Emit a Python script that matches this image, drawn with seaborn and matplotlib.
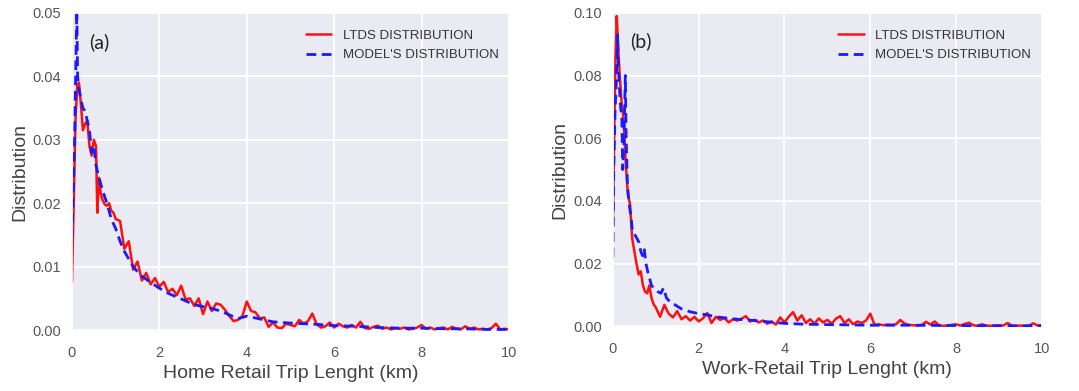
import numpy as np
import pandas as pd
import seaborn as sns
import matplotlib.pyplot as plt

# ---- panel (a): home-retail trip length ----
a_ltds_head_x = [0.0, 0.04, 0.08, 0.12, 0.16, 0.20, 0.25, 0.30, 0.35, 0.40, 0.45,
                 0.50, 0.55, 0.58, 0.62, 0.66, 0.70, 0.75, 0.80, 0.85, 0.90, 0.95]
a_ltds_head_y = [0.0075, 0.0200, 0.0330, 0.0385, 0.0390, 0.0360, 0.0315, 0.0325, 0.0330, 0.0290, 0.0275,
                 0.0300, 0.0290, 0.0185, 0.0240, 0.0215, 0.0205, 0.0198, 0.0196, 0.0200, 0.0188, 0.0185]
# tail sampled every 0.1 km from 1.0 to 10.0
a_ltds_tail_y = [0.0175, 0.0172, 0.0128, 0.0140, 0.0095, 0.0108, 0.0078, 0.0090, 0.0072, 0.0082,
                 0.0068, 0.0076, 0.0060, 0.0065, 0.0055, 0.0070, 0.0048, 0.0050, 0.0038, 0.0050,
                 0.0025, 0.0045, 0.0030, 0.0042, 0.0040, 0.0032, 0.0022, 0.0014, 0.0016, 0.0022,
                 0.0045, 0.0030, 0.0028, 0.0018, 0.0020, 0.0005, 0.0012, 0.0004, 0.0003, 0.0010,
                 0.0008, 0.0006, 0.0016, 0.0010, 0.0014, 0.0026, 0.0009, 0.0004, 0.0006, 0.0012,
                 0.0004, 0.0010, 0.0006, 0.0004, 0.0008, 0.0004, 0.0013, 0.0003, 0.0002, 0.0005,
                 0.0007, 0.0002, 0.0004, 0.0001, 0.0003, 0.0002, 0.0004, 0.0001, 0.0002, 0.0004,
                 0.0008, 0.0002, 0.0004, 0.0001, 0.0003, 0.0004, 0.0001, 0.0005, 0.0002, 0.0001,
                 0.0006, 0.0002, 0.0004, 0.0001, 0.0002, 0.0001, 0.0003, 0.0010, 0.0001, 0.0002,
                 0.0001]
a_model_x = [0.0, 0.03, 0.06, 0.09, 0.11, 0.13, 0.16, 0.20, 0.25, 0.30,
             0.35, 0.40, 0.45, 0.50, 0.55, 0.60, 0.70, 0.80, 0.90, 1.0,
             1.1, 1.2, 1.3, 1.4, 1.5, 1.6, 1.8, 2.0, 2.2, 2.4,
             2.6, 2.8, 3.0, 3.2, 3.4, 3.6, 3.8, 4.0, 4.2, 4.4,
             4.6, 4.8, 5.0, 5.3, 5.6, 6.0, 6.5, 7.0, 7.5, 8.0,
             8.5, 9.0, 9.5, 10.0]
a_model_y = [0.0145, 0.022, 0.030, 0.042, 0.0505, 0.040, 0.038, 0.0365, 0.035, 0.0345,
             0.033, 0.0315, 0.028, 0.029, 0.026, 0.0245, 0.022, 0.020, 0.0175, 0.016,
             0.0140, 0.0124, 0.0112, 0.0100, 0.0092, 0.0085, 0.0075, 0.0066, 0.0058, 0.0052,
             0.0046, 0.0040, 0.0037, 0.0034, 0.0030, 0.0024, 0.0018, 0.0022, 0.0019, 0.0016,
             0.0013, 0.0012, 0.0011, 0.0010, 0.0009, 0.0007, 0.0006, 0.0004, 0.0003, 0.0003,
             0.0002, 0.0002, 0.0001, 0.0001]

# ---- panel (b): work-retail trip length ----
b_ltds_head_x = [0.0, 0.03, 0.06, 0.09, 0.12, 0.16, 0.20, 0.25, 0.30, 0.35, 0.40,
                 0.45, 0.50, 0.55, 0.60, 0.65, 0.70, 0.75, 0.80, 0.85, 0.90, 0.95]
b_ltds_head_y = [0.032, 0.060, 0.085, 0.099, 0.090, 0.080, 0.072, 0.066, 0.052, 0.042, 0.039,
                 0.028, 0.024, 0.020, 0.0165, 0.0175, 0.013, 0.011, 0.0105, 0.013, 0.009, 0.007]
b_ltds_tail_y = [0.0060, 0.0030, 0.0068, 0.0040, 0.0028, 0.0048, 0.0022, 0.0032, 0.0018, 0.0030,
                 0.0015, 0.0025, 0.0042, 0.0010, 0.0030, 0.0020, 0.0026, 0.0012, 0.0022, 0.0018,
                 0.0024, 0.0032, 0.0015, 0.0020, 0.0012, 0.0018, 0.0008, 0.0015, 0.0005, 0.0028,
                 0.0012, 0.0030, 0.0045, 0.0018, 0.0035, 0.0010, 0.0022, 0.0008, 0.0025, 0.0012,
                 0.0020, 0.0008, 0.0024, 0.0032, 0.0010, 0.0022, 0.0006, 0.0015, 0.0010, 0.0018,
                 0.0040, 0.0004, 0.0006, 0.0003, 0.0005, 0.0004, 0.0006, 0.0020, 0.0008, 0.0004,
                 0.0003, 0.0002, 0.0004, 0.0014, 0.0005, 0.0015, 0.0003, 0.0001, 0.0002, 0.0004,
                 0.0006, 0.0002, 0.0007, 0.0011, 0.0003, 0.0001, 0.0006, 0.0002, 0.0001, 0.0002,
                 0.0003, 0.0002, 0.0010, 0.0002, 0.0001, 0.0002, 0.0001, 0.0002, 0.0009, 0.0002,
                 0.0003]
b_model_x = [0.0, 0.02, 0.05, 0.08, 0.11, 0.13, 0.15, 0.18, 0.21, 0.23,
             0.26, 0.29, 0.31, 0.34, 0.38, 0.42, 0.46, 0.52, 0.60, 0.65,
             0.69, 0.73, 0.77, 0.82, 0.90, 0.96, 1.05, 1.12, 1.18, 1.25,
             1.35, 1.45, 1.6, 1.8, 2.0, 2.2, 2.4, 2.7, 3.0, 3.3,
             3.6, 4.0, 4.5, 5.0, 5.5, 6.0, 7.0, 8.0, 9.0, 10.0]
b_model_y = [0.022, 0.050, 0.068, 0.078, 0.093, 0.082, 0.077, 0.070, 0.066, 0.050,
             0.060, 0.080, 0.060, 0.045, 0.039, 0.035, 0.030, 0.029, 0.027, 0.024,
             0.0225, 0.0248, 0.020, 0.017, 0.013, 0.012, 0.011, 0.0105, 0.0122, 0.009,
             0.0075, 0.0068, 0.0055, 0.0046, 0.0040, 0.0036, 0.0030, 0.0025, 0.0021, 0.0018,
             0.0014, 0.0009, 0.0006, 0.0005, 0.0004, 0.0003, 0.0003, 0.0002, 0.0001, 0.0001]

tail_x = np.round(np.arange(1.0, 10.001, 0.1), 2)

panels = [
    dict(tag="(a)", xlabel="Home Retail Trip Lenght (km)",
         ltds_x=a_ltds_head_x + list(tail_x), ltds_y=a_ltds_head_y + a_ltds_tail_y,
         model_x=a_model_x, model_y=a_model_y,
         ylim=(-0.0003, 0.05), yticks=[0.0, 0.01, 0.02, 0.03, 0.04, 0.05],
         rect=[0.0667, 0.151, 0.405, 0.816]),
    dict(tag="(b)", xlabel="Work-Retail Trip Lenght (km)",
         ltds_x=b_ltds_head_x + list(tail_x), ltds_y=b_ltds_head_y + b_ltds_tail_y,
         model_x=b_model_x, model_y=b_model_y,
         ylim=(-0.0006, 0.10), yticks=[0.0, 0.02, 0.04, 0.06, 0.08, 0.10],
         rect=[0.568, 0.161, 0.3976, 0.806]),
]

sns.set_theme(style="darkgrid")
plt.rcParams['font.family'] = ['Liberation Sans', 'DejaVu Sans']

fig = plt.figure(figsize=(10.79, 3.91), dpi=100)

for p in panels:
    ax = fig.add_axes(p["rect"])
    df_l = pd.DataFrame({"km": p["ltds_x"], "dist": p["ltds_y"]})
    df_m = pd.DataFrame({"km": p["model_x"], "dist": p["model_y"]})
    sns.lineplot(data=df_l, x="km", y="dist", color="#ff1010", lw=1.8,
                 label="LTDS DISTRIBUTION", ax=ax)
    sns.lineplot(data=df_m, x="km", y="dist", color="#1a1aff", lw=2.0,
                 linestyle=(0, (3.5, 2)), label="MODEL'S DISTRIBUTION", ax=ax)
    ax.set_xlim(0, 10)
    ax.set_ylim(*p["ylim"])
    ax.set_xticks([0, 2, 4, 6, 8, 10])
    ax.set_yticks(p["yticks"])
    ax.set_yticklabels([f"{v:.2f}" for v in p["yticks"]])
    ax.tick_params(labelsize=10.5, colors="#555555", pad=2)
    ax.tick_params(axis="x", pad=4)
    ax.set_xlabel(p["xlabel"], fontsize=14, color="#444444", labelpad=4)
    ax.set_ylabel("Distribution", fontsize=14, color="#444444", labelpad=3)
    ax.grid(color="white", lw=1.3)
    ax.text(0.04, 0.89, p["tag"], transform=ax.transAxes, fontsize=14,
            family="Lato", color="#222222")
    ax.legend(loc="upper right", frameon=False, fontsize=9.5, handlelength=1.9,
              handletextpad=0.9, labelspacing=0.55,
              bbox_to_anchor=(1.003, 0.985), labelcolor="#333333")

plt.savefig("out.png", dpi=100)
